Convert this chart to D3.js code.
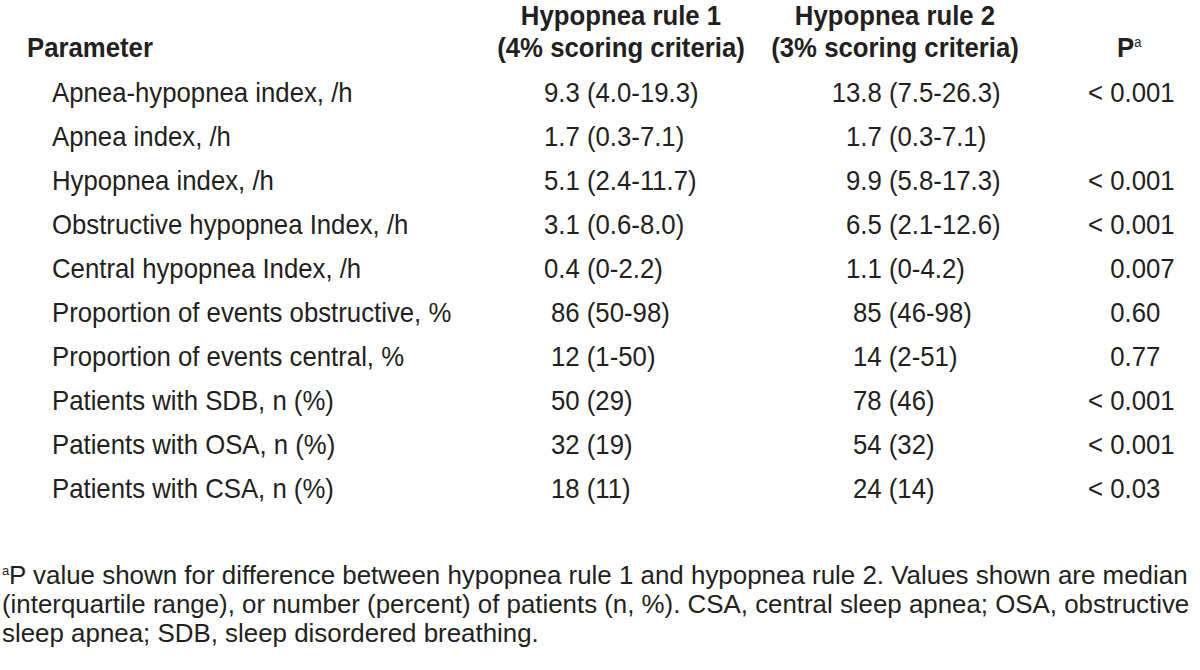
<!DOCTYPE html>
<html>
<head>
<meta charset="utf-8">
<script src="https://cdn.jsdelivr.net/npm/d3@7"></script>
<style>
  body { margin: 0; background: #fff; }
  svg text { font-family: "Liberation Sans", Arial, sans-serif; fill: #231f20; }
</style>
</head>
<body>
<svg id="vis" width="1200" height="670"></svg>
<script>
const parameters = [
  "Apnea-hypopnea index, /h",
  "Apnea index, /h",
  "Hypopnea index, /h",
  "Obstructive hypopnea Index, /h",
  "Central hypopnea Index, /h",
  "Proportion of events obstructive, %",
  "Proportion of events central, %",
  "Patients with SDB, n (%)",
  "Patients with OSA, n (%)",
  "Patients with CSA, n (%)"
];
const rule1 = ["9.3 (4.0-19.3)", "1.7 (0.3-7.1)", "5.1 (2.4-11.7)", "3.1 (0.6-8.0)", "0.4 (0-2.2)",
  "86 (50-98)", "12 (1-50)", "50 (29)", "32 (19)", "18 (11)"];
const rule2 = ["13.8 (7.5-26.3)", "1.7 (0.3-7.1)", "9.9 (5.8-17.3)", "6.5 (2.1-12.6)", "1.1 (0-4.2)",
  "85 (46-98)", "14 (2-51)", "78 (46)", "54 (32)", "24 (14)"];
const pValues = ["< 0.001", "", "< 0.001", "< 0.001", "0.007", "0.60", "0.77", "< 0.001", "< 0.001", "< 0.03"];
const headers = [
  ["Hypopnea rule 1", "(4% scoring criteria)"],
  ["Hypopnea rule 2", "(3% scoring criteria)"]
];
const footnote = [
  "P value shown for difference between hypopnea rule 1 and hypopnea rule 2. Values shown are median",
  "(interquartile range), or number (percent) of patients (n, %). CSA, central sleep apnea; OSA, obstructive",
  "sleep apnea; SDB, sleep disordered breathing."
];

const svg = d3.select("#vis");
const fs = 28;
const k = 0.92;   // condensed look: squeeze text horizontally

const y = d3.scalePoint()
  .domain(d3.range(parameters.length))
  .range([102, 498]);

const colX = { param: 52, r1: 544, r2: 846, p: 1088 };

function put(x, yy, sx = k) {
  return svg.append("text")
    .attr("transform", `translate(${x},${yy}) scale(${sx},1)`);
}

// header
put(27, 57).attr("font-size", fs).attr("font-weight", "bold").text("Parameter");

const hx = [621, 895];
headers.forEach((h, i) => {
  h.forEach((line, j) => {
    put(hx[i], j === 0 ? 25 : 57)
      .attr("text-anchor", "middle")
      .attr("font-size", fs).attr("font-weight", "bold")
      .text(line);
  });
});

const pHead = put(1117, 57).attr("font-size", fs).attr("font-weight", "bold");
pHead.append("tspan").text("P");
pHead.append("tspan").attr("font-size", 14).attr("dy", -10).attr("font-weight", "normal").text("a");

// parameter labels
parameters.forEach((d, i) => {
  put(colX.param, y(i)).attr("font-size", fs).text(d);
});

// decimals line up on the units digit, integers sit a little right
const measure = svg.append("text").attr("font-size", fs).attr("visibility", "hidden");
function lead(v) {
  const m = v.match(/^(\d+)\./);
  if (!m) return 7;
  measure.text(m[1]);
  const w = measure.node().getComputedTextLength();
  measure.text("0");
  return (measure.node().getComputedTextLength() - w) * k;
}

[["r1", rule1], ["r2", rule2]].forEach(([key, vals]) => {
  vals.forEach((d, i) => {
    put(colX[key] + lead(d), y(i)).attr("font-size", fs).text(d);
  });
});

// P values: hide the "< " on plain values so the digits still line up
pValues.forEach((d, i) => {
  if (!d) return;
  const t = put(colX.p, y(i)).attr("font-size", fs);
  t.append("tspan").attr("fill-opacity", d.startsWith("<") ? 1 : 0).text("< ");
  t.append("tspan").text(d.replace(/^<\s*/, ""));
});

// footnote: first two lines are stretched to the full width (justified look)
const ffs = 26;
const fy = [584, 613, 642];
const starts = [9, 2, 2];
const ends = [1188, 1190];
const fk = [];
footnote.forEach((line, i) => {
  measure.attr("font-size", ffs).text(line);
  const w = measure.node().getComputedTextLength();
  fk[i] = i < 2 ? (ends[i] - starts[i]) / w : (fk[0] + fk[1]) / 2;
  put(starts[i], fy[i], fk[i]).attr("font-size", ffs).text(line);
});
measure.remove();
put(2, fy[0] - 9, 1).attr("font-size", 13).text("a");
</script>
</body>
</html>
